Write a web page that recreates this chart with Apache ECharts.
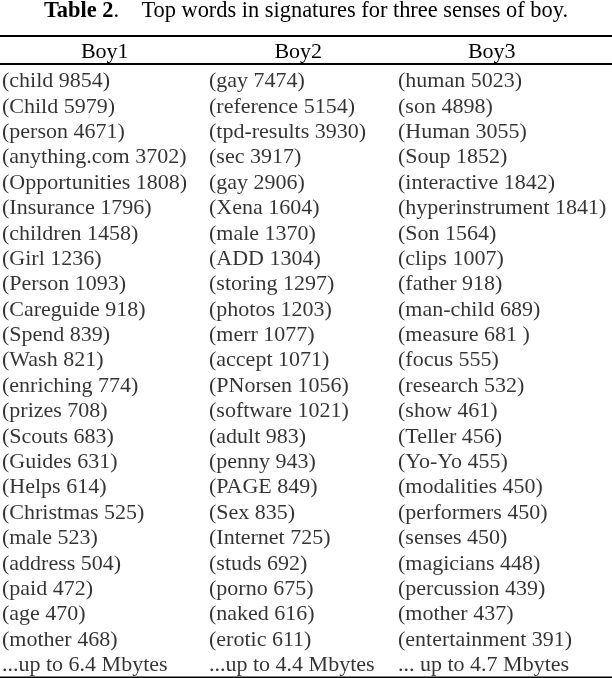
<!DOCTYPE html>
<html>
<head>
<meta charset="utf-8">
<script src="https://cdn.jsdelivr.net/npm/echarts@6/dist/echarts.min.js"></script>
<style>
html,body{margin:0;padding:0;background:#fff;}
#chart{width:612px;height:678px;}
</style>
</head>
<body>
<div id="chart"></div>
<script>
const columns = ['Boy1', 'Boy2', 'Boy3'];
const boy1 = ['(child 9854)','(Child 5979)','(person 4671)','(anything.com 3702)','(Opportunities 1808)','(Insurance 1796)','(children 1458)','(Girl 1236)','(Person 1093)','(Careguide 918)','(Spend 839)','(Wash 821)','(enriching 774)','(prizes 708)','(Scouts 683)','(Guides 631)','(Helps 614)','(Christmas 525)','(male 523)','(address 504)','(paid 472)','(age 470)','(mother 468)'];
const boy2 = ['(gay 7474)','(reference 5154)','(tpd-results 3930)','(sec 3917)','(gay 2906)','(Xena 1604)','(male 1370)','(ADD 1304)','(storing 1297)','(photos 1203)','(merr 1077)','(accept 1071)','(PNorsen 1056)','(software 1021)','(adult 983)','(penny 943)','(PAGE 849)','(Sex 835)','(Internet 725)','(studs 692)','(porno 675)','(naked 616)','(erotic 611)'];
const boy3 = ['(human 5023)','(son 4898)','(Human 3055)','(Soup 1852)','(interactive 1842)','(hyperinstrument 1841)','(Son 1564)','(clips 1007)','(father 918)','(man-child 689)','(measure 681 )','(focus 555)','(research 532)','(show 461)','(Teller 456)','(Yo-Yo 455)','(modalities 450)','(performers 450)','(senses 450)','(magicians 448)','(percussion 439)','(mother 437)','(entertainment 391)'];
const footers = ['...up to 6.4 Mbytes', '...up to 4.4 Mbytes', '... up to 4.7 Mbytes'];

const cols = [boy1, boy2, boy3].map((list, c) => list.concat([footers[c]]));
const nRows = cols[0].length;
const rowCats = Array.from({length: nRows}, (_, i) => String(i));

const FONT = 'Liberation Serif';
const FS = 22;
const offsets = [-102.75, -89.25, -93.75];

const chart = echarts.init(document.getElementById('chart'), null, {renderer: 'canvas'});
chart.setOption({
  backgroundColor: '#fff',
  animation: false,
  title: {
    text: '{b|Table 2}{n|.    Top words in signatures for three senses of boy.}',
    left: 'center',
    top: 0,
    padding: 0,
    textStyle: {
      rich: {
        b: {fontFamily: FONT, fontSize: 22.4, fontWeight: 'bold', color: '#000'},
        n: {fontFamily: FONT, fontSize: 22.4, fontWeight: 'normal', color: '#000'}
      }
    }
  },
  grid: {left: 8, right: 23.5, top: 68.8, height: 609.6, containLabel: false},
  xAxis: {
    type: 'category',
    data: columns,
    position: 'top',
    axisLine: {show: false},
    axisTick: {show: false},
    splitLine: {show: false},
    axisLabel: {
      fontFamily: FONT, fontSize: FS, color: '#000',
      verticalAlign: 'middle', margin: 17
    }
  },
  yAxis: {
    type: 'category',
    data: rowCats,
    inverse: true,
    show: false
  },
  graphic: [
    {type: 'rect', shape: {x: 0, y: 35, width: 612, height: 2}, style: {fill: '#000'}},
    {type: 'rect', shape: {x: 0, y: 63, width: 612, height: 2}, style: {fill: '#000'}},
    {type: 'rect', shape: {x: 0, y: 676.5, width: 612, height: 1.5}, style: {fill: '#000'}}
  ],
  series: cols.map((list, c) => ({
    type: 'scatter',
    silent: true,
    symbolSize: 1,
    itemStyle: {color: 'rgba(0,0,0,0)'},
    data: list.map((t, i) => ({name: t, value: [c, i]})),
    label: {
      show: true,
      position: 'inside',
      align: 'left',
      verticalAlign: 'middle',
      offset: [offsets[c], 0],
      formatter: '{b}',
      fontFamily: FONT,
      fontSize: FS,
      color: '#000'
    }
  }))
});
</script>
</body>
</html>
